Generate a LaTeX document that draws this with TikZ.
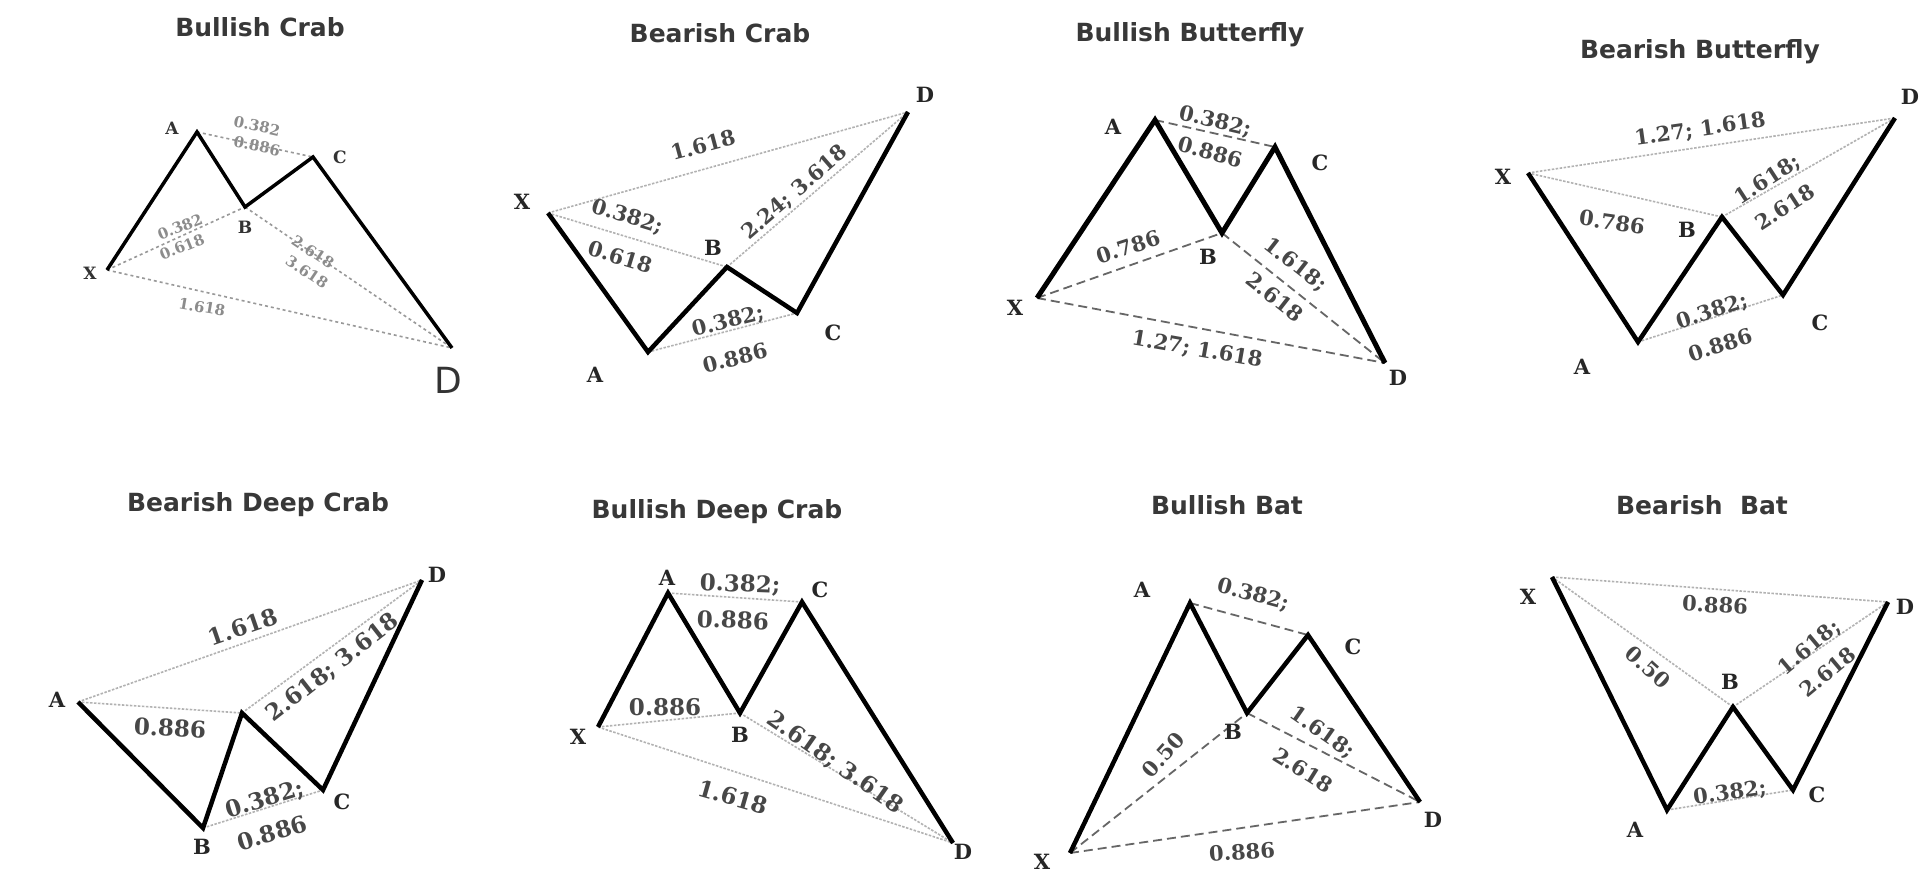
\documentclass[tikz,border=0pt]{standalone}
\usepackage{fontspec}
\setmainfont{DejaVu Serif}
\newfontfamily\ttlfont{DejaVu Sans}
\begin{document}
\begin{tikzpicture}[x=1pt,y=-1pt,
  leg/.style={draw=black,line width=4.5pt,line join=miter},
  legthin/.style={leg,line width=3.5pt},
  fibdot/.style={draw=black!30,line width=1.6pt,dash pattern=on 2.5pt off 1.5pt},
  fibgray/.style={draw=black!40,line width=1.6pt,dash pattern=on 3pt off 3pt},
  fibdash/.style={draw=black!60,line width=1.8pt,dash pattern=on 9pt off 5pt},
  ttl/.style={font=\ttlfont\bfseries\fontsize{25}{25}\selectfont,text=black!78,inner sep=0pt},
  lbl/.style={font=\bfseries\fontsize{21}{21}\selectfont,text=black!85,inner sep=0pt},
  lblsmall/.style={font=\bfseries\fontsize{17}{17}\selectfont,text=black!80,inner sep=0pt},
  lblsans/.style={font=\ttlfont\fontsize{36}{36}\selectfont,text=black!80,inner sep=0pt},
  rat/.style={font=\bfseries\fontsize{21}{21}\selectfont,text=black!72,inner sep=0pt},
  ratbig/.style={font=\bfseries\fontsize{23}{23}\selectfont,text=black!72,inner sep=0pt},
  ratsmall/.style={font=\bfseries\fontsize{15}{15}\selectfont,text=black!45,inner sep=0pt}
]
\useasboundingbox (0,0) rectangle (1922,890);
\fill[white] (0,0) rectangle (1922,890);

% ---------- Panel 1: Bullish Crab ----------
\coordinate (p1X) at (107,270);
\coordinate (p1A) at (197,132);
\coordinate (p1B) at (245,207);
\coordinate (p1C) at (313,157);
\coordinate (p1D) at (452,348);
\draw[fibgray] (p1A) -- (p1C);
\draw[fibgray] (p1X) -- (p1B);
\draw[fibgray] (p1B) -- (p1D);
\draw[fibgray] (p1X) -- (p1D);
\draw[legthin] (p1X) -- (p1A) -- (p1B) -- (p1C) -- (p1D);
\node[ttl] (t1) at (260,27) {Bullish Crab};
\node[lblsmall] (l1X) at (90,273) {X};
\node[lblsmall] (l1A) at (172,128) {A};
\node[lblsmall] (l1B) at (245,227) {B};
\node[lblsmall] (l1C) at (340,157) {C};
\node[lblsans] (l1D) at (448,380) {D};
\node[ratsmall,rotate=-12] (r1a) at (257,126) {0.382};
\node[ratsmall,rotate=-12] (r1b) at (257,146) {0.886};
\node[ratsmall,rotate=22] (r1c) at (180,227) {0.382};
\node[ratsmall,rotate=22] (r1d) at (182,247) {0.618};
\node[ratsmall,rotate=-34] (r1e) at (313,252) {2.618};
\node[ratsmall,rotate=-34] (r1f) at (307,272) {3.618};
\node[ratsmall,rotate=-10] (r1g) at (202,307) {1.618};

% ---------- Panel 2: Bearish Crab ----------
\coordinate (p2X) at (548,213);
\coordinate (p2A) at (648,352);
\coordinate (p2B) at (727,267);
\coordinate (p2C) at (797,313);
\coordinate (p2D) at (908,112);
\draw[fibdot] (p2X) -- (p2D);
\draw[fibdot] (p2X) -- (p2B);
\draw[fibdot] (p2B) -- (p2D);
\draw[fibdot] (p2A) -- (p2C);
\draw[leg] (p2X) -- (p2A) -- (p2B) -- (p2C) -- (p2D);
\node[ttl] (t2) at (720,33) {Bearish Crab};
\node[lbl] (l2X) at (522,202) {X};
\node[lbl] (l2A) at (595,375) {A};
\node[lbl] (l2B) at (713,248) {B};
\node[lbl] (l2C) at (833,333) {C};
\node[lbl] (l2D) at (925,95) {D};
\node[rat,rotate=15] (r2a) at (703,145) {1.618};
\node[rat,rotate=-17] (r2b) at (627,217) {0.382;};
\node[rat,rotate=-17] (r2c) at (620,257) {0.618};
\node[rat,rotate=41] (r2d) at (795,193) {2.24; 3.618};
\node[rat,rotate=14] (r2e) at (728,322) {0.382;};
\node[rat,rotate=14] (r2f) at (735,358) {0.886};

% ---------- Panel 3: Bullish Butterfly ----------
\coordinate (p3X) at (1037,298);
\coordinate (p3A) at (1155,120);
\coordinate (p3B) at (1222,233);
\coordinate (p3C) at (1275,147);
\coordinate (p3D) at (1385,363);
\draw[fibdash] (p3A) -- (p3C);
\draw[fibdash] (p3X) -- (p3B);
\draw[fibdash] (p3B) -- (p3D);
\draw[fibdash] (p3X) -- (p3D);
\draw[leg,line width=5pt] (p3X) -- (p3A) -- (p3B) -- (p3C) -- (p3D);
\node[ttl] (t3) at (1190,35) {Bullish Butterfly};
\node[lbl] (l3X) at (1015,308) {X};
\node[lbl] (l3A) at (1113,127) {A};
\node[lbl] (l3B) at (1208,257) {B};
\node[lbl] (l3C) at (1320,163) {C};
\node[lbl] (l3D) at (1398,378) {D};
\node[rat,rotate=-13] (r3a) at (1215,122) {0.382;};
\node[rat,rotate=-15] (r3b) at (1210,152) {0.886};
\node[rat,rotate=18] (r3c) at (1128,247) {0.786};
\node[rat,rotate=-38] (r3d) at (1295,265) {1.618;};
\node[rat,rotate=-38] (r3e) at (1275,297) {2.618};
\node[rat,rotate=-10] (r3f) at (1197,350) {1.27; 1.618};

% ---------- Panel 4: Bearish Butterfly ----------
\coordinate (p4X) at (1528,173);
\coordinate (p4A) at (1638,342);
\coordinate (p4B) at (1722,217);
\coordinate (p4C) at (1783,295);
\coordinate (p4D) at (1895,118);
\draw[fibdot] (p4X) -- (p4D);
\draw[fibdot] (p4X) -- (p4B);
\draw[fibdot] (p4B) -- (p4D);
\draw[fibdot] (p4A) -- (p4C);
\draw[leg] (p4X) -- (p4A) -- (p4B) -- (p4C) -- (p4D);
\node[ttl] (t4) at (1700,52) {Bearish Butterfly};
\node[lbl] (l4X) at (1503,177) {X};
\node[lbl] (l4A) at (1582,367) {A};
\node[lbl] (l4B) at (1687,230) {B};
\node[lbl] (l4C) at (1820,323) {C};
\node[lbl] (l4D) at (1910,97) {D};
\node[rat,rotate=8] (r4a) at (1700,130) {1.27; 1.618};
\node[rat,rotate=-8] (r4b) at (1612,222) {0.786};
\node[rat,rotate=33] (r4c) at (1768,180) {1.618;};
\node[rat,rotate=33] (r4d) at (1785,207) {2.618};
\node[rat,rotate=18] (r4e) at (1712,312) {0.382;};
\node[rat,rotate=18] (r4f) at (1720,345) {0.886};

% ---------- Panel 5: Bearish Deep Crab ----------
\coordinate (p5A) at (78,702);
\coordinate (p5B) at (203,828);
\coordinate (p5M) at (242,713);
\coordinate (p5C) at (323,790);
\coordinate (p5D) at (422,580);
\draw[fibdot] (p5A) -- (p5D);
\draw[fibdot] (p5A) -- (p5M);
\draw[fibdot] (p5M) -- (p5D);
\draw[fibdot] (p5B) -- (p5C);
\draw[leg] (p5A) -- (p5B) -- (p5M) -- (p5C) -- (p5D);
\node[ttl] (t5) at (258,505) {Bearish Deep Crab};
\node[lbl] (l5A) at (57,700) {A};
\node[lbl] (l5B) at (202,847) {B};
\node[lbl] (l5C) at (342,802) {C};
\node[lbl] (l5D) at (437,575) {D};
\node[ratbig,rotate=19] (r5a) at (243,627) {1.618};
\node[ratbig,rotate=-3] (r5b) at (170,728) {0.886};
\node[ratbig,rotate=38] (r5c) at (333,668) {2.618; 3.618};
\node[ratbig,rotate=17] (r5d) at (265,800) {0.382;};
\node[ratbig,rotate=17] (r5e) at (272,833) {0.886};

% ---------- Panel 6: Bullish Deep Crab ----------
\coordinate (p6X) at (598,727);
\coordinate (p6A) at (668,593);
\coordinate (p6B) at (740,713);
\coordinate (p6C) at (802,602);
\coordinate (p6D) at (953,843);
\draw[fibdot] (p6A) -- (p6C);
\draw[fibdot] (p6X) -- (p6B);
\draw[fibdot] (p6B) -- (p6D);
\draw[fibdot] (p6X) -- (p6D);
\draw[leg] (p6X) -- (p6A) -- (p6B) -- (p6C) -- (p6D);
\node[ttl] (t6) at (717,512) {Bullish Deep Crab};
\node[lbl] (l6X) at (578,737) {X};
\node[lbl] (l6A) at (667,578) {A};
\node[lbl] (l6B) at (740,735) {B};
\node[lbl] (l6C) at (820,590) {C};
\node[lbl] (l6D) at (963,852) {D};
\node[ratbig,rotate=-2] (r6a) at (740,585) {0.382;};
\node[ratbig,rotate=-2] (r6b) at (733,620) {0.886};
\node[ratbig] (r6c) at (665,707) {0.886};
\node[ratbig,rotate=-35] (r6d) at (835,763) {2.618; 3.618};
\node[ratbig,rotate=-16] (r6e) at (733,797) {1.618};

% ---------- Panel 7: Bullish Bat ----------
\coordinate (p7X) at (1070,853);
\coordinate (p7A) at (1190,603);
\coordinate (p7B) at (1247,713);
\coordinate (p7C) at (1308,635);
\coordinate (p7D) at (1420,802);
\draw[fibdash] (p7A) -- (p7C);
\draw[fibdash] (p7X) -- (p7B);
\draw[fibdash] (p7B) -- (p7D);
\draw[fibdash] (p7X) -- (p7D);
\draw[leg] (p7X) -- (p7A) -- (p7B) -- (p7C) -- (p7D);
\node[ttl] (t7) at (1227,505) {Bullish Bat};
\node[lbl] (l7X) at (1042,862) {X};
\node[lbl] (l7A) at (1142,590) {A};
\node[lbl] (l7B) at (1233,732) {B};
\node[lbl] (l7C) at (1353,647) {C};
\node[lbl] (l7D) at (1433,820) {D};
\node[rat,rotate=-15] (r7a) at (1253,595) {0.382;};
\node[rat,rotate=48] (r7b) at (1163,755) {0.50};
\node[rat,rotate=-35] (r7c) at (1322,733) {1.618;};
\node[rat,rotate=-32] (r7d) at (1303,770) {2.618};
\node[rat,rotate=4] (r7e) at (1242,852) {0.886};

% ---------- Panel 8: Bearish Bat ----------
\coordinate (p8X) at (1552,577);
\coordinate (p8A) at (1667,810);
\coordinate (p8B) at (1733,707);
\coordinate (p8C) at (1793,790);
\coordinate (p8D) at (1888,602);
\draw[fibdot] (p8X) -- (p8D);
\draw[fibdot] (p8X) -- (p8B);
\draw[fibdot] (p8B) -- (p8D);
\draw[fibdot] (p8A) -- (p8C);
\draw[leg] (p8X) -- (p8A) -- (p8B) -- (p8C) -- (p8D);
\node[ttl] (t8) at (1702,505) {Bearish\ \ Bat};
\node[lbl] (l8X) at (1528,597) {X};
\node[lbl] (l8A) at (1635,830) {A};
\node[lbl] (l8B) at (1730,682) {B};
\node[lbl] (l8C) at (1817,795) {C};
\node[lbl] (l8D) at (1905,607) {D};
\node[rat,rotate=-3] (r8a) at (1715,605) {0.886};
\node[rat,rotate=-42] (r8b) at (1648,667) {0.50};
\node[rat,rotate=40] (r8c) at (1810,648) {1.618;};
\node[rat,rotate=40] (r8d) at (1828,672) {2.618};
\node[rat,rotate=8] (r8e) at (1730,793) {0.382;};
\end{tikzpicture}
\end{document}
